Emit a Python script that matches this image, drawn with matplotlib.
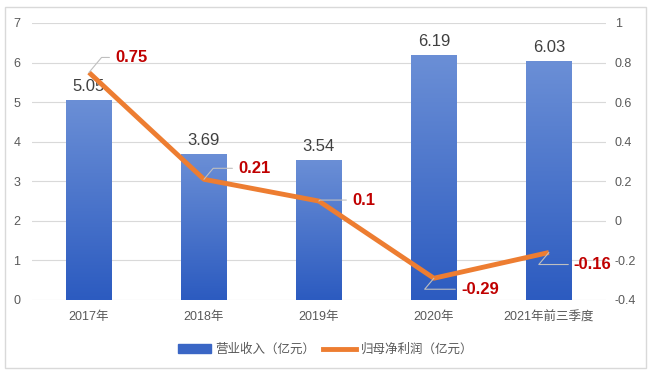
import numpy as np
import matplotlib.pyplot as plt
from matplotlib.colors import LinearSegmentedColormap
from matplotlib.patches import Rectangle

plt.rcParams['font.family'] = ['Liberation Sans', 'Noto Sans CJK SC', 'DejaVu Sans']

categories = ['2017年', '2018年', '2019年', '2020年', '2021年前三季度']
revenue = [5.05, 3.69, 3.54, 6.19, 6.03]
profit = [0.75, 0.21, 0.1, -0.29, -0.16]
# label offsets (pixels) for the profit labels
profit_offsets = [(26, 15), (34, 11), (33, 1), (27, -11), (25, -12)]

fig = plt.figure(figsize=(6.51, 3.75), dpi=100)
ax = fig.add_axes([0.0484, 0.2, 0.883, 0.7387])
ax2 = ax.twinx()

x = np.arange(len(categories))
bars = ax.bar(x, revenue, width=0.4, color='#4472C4', zorder=2)

# vertical gradient on each bar
cmap = LinearSegmentedColormap.from_list('g', ['#2c5bc0', '#6b8fd6'])
grad = np.linspace(0, 1, 256).reshape(-1, 1)
for b in bars:
    x0, y0 = b.get_x(), b.get_y()
    w, h = b.get_width(), b.get_height()
    im = ax.imshow(grad, cmap=cmap, origin='lower', aspect='auto',
                   extent=[x0, x0 + w, y0, y0 + h], zorder=2.5)
    im.set_clip_path(b)

for xi, v in zip(x, revenue):
    ax.annotate(f'{v:.2f}', (xi, v), xytext=(0, 6), textcoords='offset pixels',
                ha='center', va='bottom', fontsize=12, color='#404040')

ax.set_xlim(-0.5, len(categories) - 0.5)
ax.set_ylim(0, 7)
ax.set_yticks(range(0, 8))
ax2.set_ylim(-0.4, 1)
ax2.set_yticks([-0.4, -0.2, 0, 0.2, 0.4, 0.6, 0.8, 1])
ax2.set_yticklabels(['-0.4', '-0.2', '0', '0.2', '0.4', '0.6', '0.8', '1'])

ax.grid(axis='y', color='#d9d9d9', lw=0.8, zorder=0)
ax.set_axisbelow(True)
for a in (ax, ax2):
    for s in a.spines.values():
        s.set_visible(False)
    a.tick_params(length=0, labelsize=9, labelcolor='#595959')
ax.set_xticks(x)
ax.set_xticklabels(categories)
ax.tick_params(axis='x', pad=8)
ax.tick_params(axis='y', pad=8)
ax2.tick_params(axis='y', pad=6)

ax2.plot(x, profit, color='#ED7D31', lw=3.5, solid_capstyle='butt', zorder=3)
for xi, v, off in zip(x, profit, profit_offsets):
    ax2.annotate(f'{v:g}', (xi, v), xytext=off, textcoords='offset pixels',
                 ha='left', va='center', fontsize=12, fontweight='bold', color='#C00000',
                 arrowprops=dict(arrowstyle='-', color='#bfbfbf', lw=0.8,
                                 shrinkA=2, shrinkB=0,
                                 connectionstyle='angle,angleA=0,angleB=50,rad=0'))

h1 = Rectangle((0, 0), 1, 1, color='#3a66c5')
h2, = ax.plot([], [], color='#ED7D31', lw=3.5)
fig.legend([h1, h2], ['营业收入（亿元）', '归母净利润（亿元）'], loc='center',
           bbox_to_anchor=(0.5, 0.067), ncol=2, frameon=False, fontsize=9,
           labelcolor='#595959', handlelength=2.6, handletextpad=0.4, columnspacing=0.6)

fig.patches.append(Rectangle((5 / 651, 7 / 375), 641 / 651, 361 / 375, transform=fig.transFigure,
                             fill=False, edgecolor='#d9d9d9', lw=1))

fig.savefig('out.png', dpi=100)
